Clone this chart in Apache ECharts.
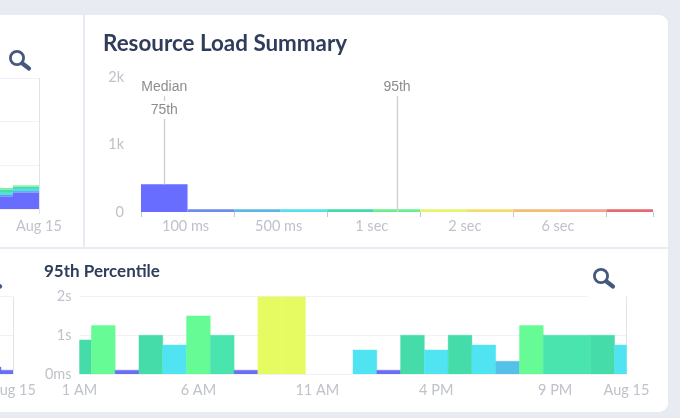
<!DOCTYPE html>
<html><head><meta charset="utf-8">
<style>
html,body{margin:0;padding:0;width:680px;height:418px;overflow:hidden;background:#e9ebf3}
.p{position:absolute;background:#fff}
#c{position:absolute;left:0;top:0;width:680px;height:418px}
</style>
<script src="https://cdn.jsdelivr.net/npm/echarts@6/dist/echarts.min.js"></script>
</head><body>
<div class="p" style="left:0;top:15px;width:83px;height:232px"></div>
<div class="p" style="left:85px;top:15px;width:583px;height:232px;border-top-right-radius:9px"></div>
<div class="p" style="left:0;top:249px;width:668px;height:163px;border-bottom-right-radius:9px"></div>
<div id="c"></div>
<script>
// Resource Load Summary histogram
const binNames = ['<100','100-250','250-500','500-750','750-1000','1-1.5s','1.5-2s','2-4s','4-6s','6-10s','>10s'];
const binCounts = [410, 40, 40, 40, 40, 40, 40, 40, 40, 40, 40];
const binTickLabels = ['', '100 ms', '', '500 ms', '', '1 sec', '', '2 sec', '', '6 sec', '', ''];
const loadTicks = ['0', '1k', '2k'];
const medianBin = 0, p95Bin = 5;
const markerTop = 1715, marker75 = 1512;
// 95th percentile, hourly, seconds
const hours = ['1 AM','2 AM','3 AM','4 AM','5 AM','6 AM','7 AM','8 AM','9 AM','10 AM','11 AM','12 PM','1 PM','2 PM','3 PM','4 PM','5 PM','6 PM','7 PM','8 PM','9 PM','10 PM','11 PM','Aug 15'];
const p95Values = [0.88,1.25,0.1,1,0.75,1.5,1,0.1,2,2,null,null,0.62,0.1,1,0.62,1,0.75,0.33,1.25,1,1,1,0.75];
// Partial charts at the left edge
const leftDays = ['Aug 14', 'Aug 15'];
const leftBlue = [0.29, 0.38];
const leftMid = [0.03, 0.03];
const leftCyan = [0.05, 0.05];
const leftGreen = [0.07, 0.05];
const leftLight = [0.04, 0.03];
const leftEdgeDays = ['', 'Aug 15'];
const leftEdgeValues = [0.18, 0.1];

// styles
const binColors = ['#686dff','#6b8cee','#5cb8e0','#56dfee','#45d9a8','#69ef90','#e4f56c','#f5dc6e','#f3bd75','#f2a090','#e66a72'];
const hourColors = ['#45dcaa','#66fb94','#6a6ef0','#45dcaa','#50e3f2','#66fb94','#4ae4ae','#6a6ef0','#e6fb62','#e6fb62',null,null,'#50e3f2','#6a6ef0','#45dcaa','#50e3f2','#45dcaa','#50e3f2','#55c0e8','#66fb94','#4ae4ae','#4ae4ae','#45dcaa','#50e3f2'];
const edgeBarColor = '#6a6ef0';
const font = 'Lato';
const labelStyle = {color:'#bfc2ca',fontFamily:font,fontSize:14.5};
const gridLine = {show:true,lineStyle:{color:'#f1f2f5',width:1}};
const edgeLine = {color:'#e2e3e8',width:1};

function icon(cx, cy){
  return {type:'group',x:cx,y:cy,z:20,children:[
    {type:'circle',shape:{cx:0,cy:0,r:6.6},style:{fill:'none',stroke:'#44597c',lineWidth:2.8}},
    {type:'line',shape:{x1:5.5,y1:5.5,x2:12,y2:10.5},style:{stroke:'#44597c',lineWidth:4.2,lineCap:'round'}}
  ]};
}
function stack(name, data, color){
  return {name,type:'bar',stack:'a',xAxisIndex:2,yAxisIndex:1,data,barCategoryGap:'0%',itemStyle:{color}};
}
// Bars centred on their hour and clipped by the plot area, as on a time axis.
function clippedBar(colorOf){
  return (params, api) => {
    const i = api.value(0), v = api.value(1);
    if (isNaN(v)) return null;
    const top = api.coord([i, v]), base = api.coord([i, 0]);
    const w = api.size([1, 0])[0];
    const s = params.coordSys;
    const r = echarts.graphic.clipRectByRect(
      {x: top[0] - w / 2, y: top[1], width: w, height: base[1] - top[1]},
      {x: s.x, y: s.y, width: s.width, height: s.height});
    if (!r) return null;
    const c = colorOf(i);
    return {type: 'rect', shape: r, style: {fill: c, stroke: c, lineWidth: 0.4}};
  };
}

const chart = echarts.init(document.getElementById('c'), null, {renderer:'canvas'});
chart.setOption({
  animation:false,
  backgroundColor:'transparent',
  title:[
    {text:'Resource Load Summary',left:103,top:33,padding:0,textStyle:{color:'#2f3d5b',fontFamily:font,fontWeight:700,fontSize:22.4}},
    {text:'95th Percentile',left:44,top:263,padding:0,textStyle:{color:'#2f3d5b',fontFamily:font,fontWeight:700,fontSize:17}}
  ],
  grid:[
    {left:141,width:512,top:77,height:135,outerBoundsMode:'none'},
    {left:-13,width:52,top:78,height:131,outerBoundsMode:'none'},
    {left:79.5,width:547,top:296.5,height:77.5,outerBoundsMode:'none'},
    {left:-11,width:24,top:296.5,height:77.5,outerBoundsMode:'none'}
  ],
  xAxis:[
    // 0, 1: histogram bins and labels on the bin edges
    {gridIndex:0,position:'bottom',type:'category',data:binNames,axisLine:{show:false},axisTick:{show:true,length:5,lineStyle:{color:'#c4c6cd'}},axisLabel:{show:false},splitLine:{show:false}},
    {gridIndex:0,position:'bottom',type:'category',boundaryGap:false,data:binTickLabels,axisLine:{show:false},axisTick:{show:false},axisLabel:{...labelStyle,interval:0,margin:7,padding:[0,4,0,0]}},
    // 2, 3: top-left fragment
    {gridIndex:1,position:'bottom',type:'category',data:leftDays,axisLine:{show:false},axisTick:{show:false},axisLabel:{show:false}},
    {gridIndex:1,position:'bottom',type:'category',boundaryGap:false,data:leftEdgeDays,axisLine:{show:false},axisTick:{show:true,length:5,lineStyle:edgeLine},splitLine:{show:true,lineStyle:edgeLine},axisLabel:{...labelStyle,interval:0,margin:10}},
    // 4: hourly chart
    {gridIndex:2,position:'bottom',type:'category',boundaryGap:false,data:hours,axisLine:{show:false},axisTick:{show:false},
      splitLine:{show:true,interval:(i)=>i===hours.length-1,lineStyle:edgeLine},
      axisLabel:{...labelStyle,margin:9,interval:(i)=>i%5===0&&i<=20||i===hours.length-1}},
    // 5: bottom-left fragment
    {gridIndex:3,position:'bottom',type:'category',boundaryGap:false,data:leftEdgeDays,axisLine:{show:false},axisTick:{show:false},splitLine:{show:true,lineStyle:edgeLine},axisLabel:{...labelStyle,interval:0,margin:9}}
  ],
  yAxis:[
    {gridIndex:0,type:'value',min:0,max:2000,interval:1000,axisLine:{show:false},axisTick:{show:false},splitLine:{show:false},
      axisLabel:{...labelStyle,margin:17,formatter:(v)=>loadTicks[v/1000]}},
    {gridIndex:1,type:'value',min:0,max:3,interval:1,axisLine:{show:false},axisTick:{show:false},axisLabel:{show:false},splitLine:gridLine},
    {gridIndex:2,type:'value',min:0,max:2,interval:1,axisLine:{show:false},axisTick:{show:false},splitLine:gridLine,
      axisLabel:{...labelStyle,margin:8,formatter:(v)=>v===0?'0ms':v+'s'}},
    {gridIndex:3,type:'value',min:0,max:2,interval:1,axisLine:{show:false},axisTick:{show:false},axisLabel:{show:false},splitLine:gridLine}
  ],
  series:[
    {name:'Resources',type:'bar',xAxisIndex:0,yAxisIndex:0,data:binCounts,barCategoryGap:'0%',
      itemStyle:{color:(p)=>binColors[p.dataIndex]},
      markLine:{silent:true,symbol:'none',animation:false,
        lineStyle:{color:'#cfcfd2',width:1.4,type:'solid'},
        label:{show:true,position:'end',color:'#8d8d8f',fontFamily:'Liberation Sans',fontSize:14,distance:2,formatter:'{b}'},
        data:[
          [{name:'Median',xAxis:medianBin,yAxis:binCounts[medianBin]},{xAxis:medianBin,yAxis:markerTop}],
          [{name:'95th',xAxis:p95Bin,yAxis:0},{xAxis:p95Bin,yAxis:markerTop}]
        ]},
      markPoint:{silent:true,symbol:'circle',symbolSize:0,animation:false,
        label:{show:true,position:'inside',color:'#8d8d8f',fontFamily:'Liberation Sans',fontSize:14,backgroundColor:'#fff',padding:[2,4],formatter:'75th'},
        data:[{xAxis:medianBin,yAxis:marker75}]}
    },
    stack('Under 1s',leftBlue,'#686dff'),
    stack('1s',leftMid,'#5d9bea'),
    stack('2s',leftCyan,'#52dcee'),
    stack('3s',leftGreen,'#48dcae'),
    stack('4s',leftLight,'#70f09a'),
    {name:'95th',type:'custom',xAxisIndex:4,yAxisIndex:2,clip:true,encode:{x:0,y:1},
      data:p95Values.map((v,i)=>[i,v]),renderItem:clippedBar((i)=>hourColors[i])},
    {name:'95th left',type:'custom',xAxisIndex:5,yAxisIndex:3,clip:true,encode:{x:0,y:1},
      data:leftEdgeValues.map((v,i)=>[i,v]),renderItem:clippedBar(()=>edgeBarColor)}
  ],
  graphic:[
    {type:'rect',z:15,shape:{x:588,y:294,width:37.5,height:4},style:{fill:'#fff'}},
    icon(17,58), icon(601,276), icon(-12,276)
  ]
});
</script>
</body></html>
